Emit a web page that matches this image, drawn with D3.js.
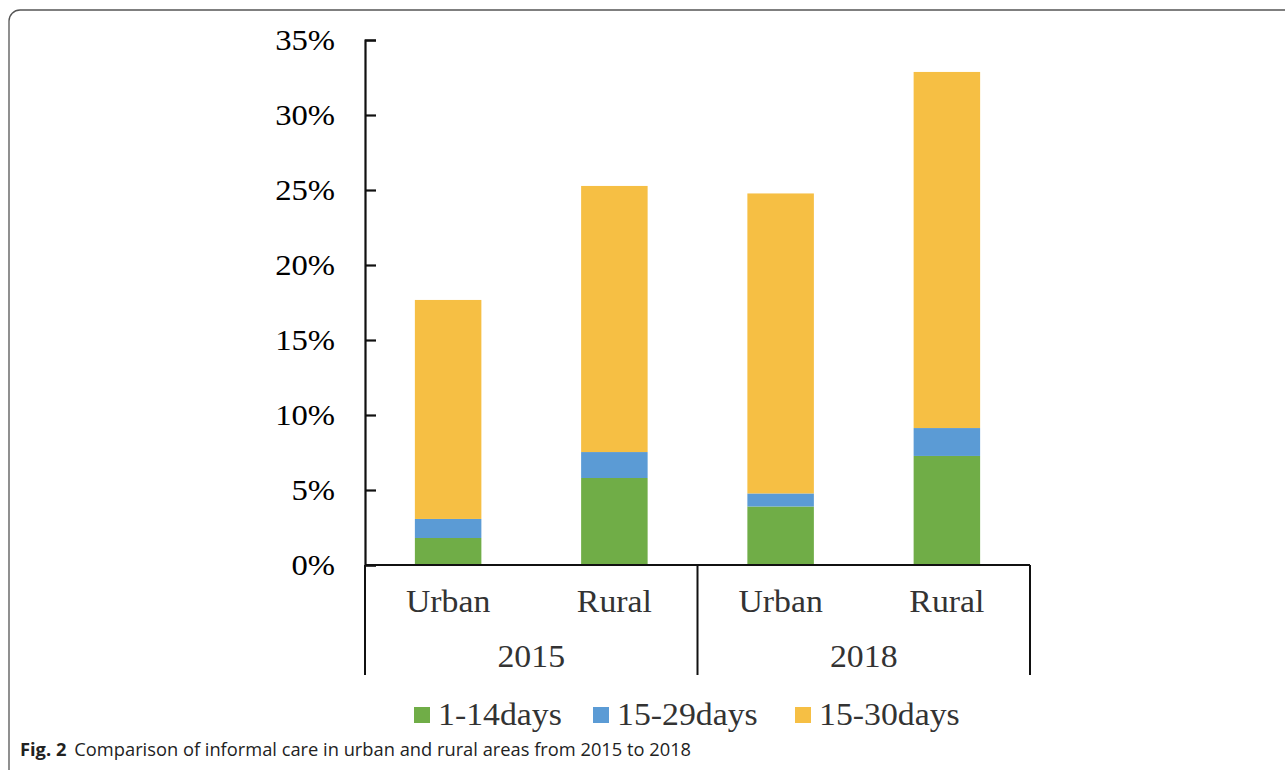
<!DOCTYPE html>
<html>
<head>
<meta charset="utf-8">
<script src="https://cdn.jsdelivr.net/npm/d3@7"></script>
<style>
  body { margin: 0; background: #fff; }
  svg { display: block; }
</style>
</head>
<body>
<div id="chart"></div>
<script>
// data (percent)
var years = ["2015", "2018"];
var areas = ["Urban", "Rural"];
var seriesNames = ["1-14days", "15-29days", "15-30days"];
var days1to14  = [1.8, 5.8, 3.9, 7.27];
var days15to29 = [1.27, 1.73, 0.87, 1.86];
var days15to30 = [14.6, 17.74, 20.0, 23.74];
var yTicks = [0, 5, 10, 15, 20, 25, 30, 35];
var colors = ["#70ad47", "#5b9bd5", "#f6bf44"];

var width = 1285, height = 770;
var plotLeft = 365, plotRight = 1030, plotTop = 40, base = 565, boxBottom = 675;
var stretch = 1.09; // the source text is a bit wider than Times

var svg = d3.select("#chart").append("svg")
  .attr("width", width)
  .attr("height", height);

// frame
svg.append("rect")
  .attr("x", 9).attr("y", 10)
  .attr("width", 1400).attr("height", 900)
  .attr("rx", 11)
  .attr("fill", "none")
  .attr("stroke", "#555")
  .attr("stroke-width", 1.3);

var rows = [];
years.forEach(function (yr, gi) {
  areas.forEach(function (ar, ai) {
    var i = gi * areas.length + ai;
    rows.push({ key: ar + yr, year: yr, area: ar,
      "1-14days": days1to14[i], "15-29days": days15to29[i], "15-30days": days15to30[i] });
  });
});

var x = d3.scaleBand()
  .domain(rows.map(function (d) { return d.key; }))
  .range([plotLeft, plotRight])
  .paddingInner(0.6)
  .paddingOuter(0.3);

var y = d3.scaleLinear().domain([0, 35]).range([base, plotTop]);

var stacked = d3.stack().keys(seriesNames)(rows);

svg.append("g").selectAll("g")
  .data(stacked)
  .enter().append("g")
    .attr("fill", function (d, i) { return colors[i]; })
  .selectAll("rect")
  .data(function (d) { return d; })
  .enter().append("rect")
    .attr("x", function (d) { return x(d.data.key); })
    .attr("width", x.bandwidth())
    .attr("y", function (d) { return y(d[1]); })
    .attr("height", function (d) { return y(d[0]) - y(d[1]); });

var serif = "'Liberation Serif', 'Times New Roman', serif";

function place(px, py) {
  return "translate(" + px + "," + py + ") scale(" + stretch + ",1)";
}

// y axis
var yAxis = svg.append("g")
  .attr("transform", "translate(" + plotLeft + ",0)")
  .call(d3.axisLeft(y).tickValues(yTicks).tickSize(-11).tickPadding(27.5)
    .tickFormat(function (d) { return d + "%"; }));
yAxis.select(".domain").attr("stroke", "#111").attr("stroke-width", 2.2);
yAxis.selectAll(".tick line").attr("stroke", "#111").attr("stroke-width", 2.2);
yAxis.selectAll(".tick text")
  .attr("fill", "#000")
  .attr("transform", "scale(" + stretch + ",1)")
  .style("font-family", serif)
  .style("font-size", "30px");

// x axis line and category box
var lines = svg.append("g").attr("stroke", "#111").attr("stroke-width", 2);
lines.append("line").attr("x1", plotLeft).attr("x2", plotRight).attr("y1", base).attr("y2", base);
var step = x.step();
var divider = x(rows[1].key) + x.bandwidth() + step * x.paddingInner() / 2;
[plotLeft, divider, plotRight].forEach(function (xv) {
  lines.append("line").attr("x1", xv).attr("x2", xv).attr("y1", base).attr("y2", boxBottom);
});

svg.append("g").selectAll("text")
  .data(rows)
  .enter().append("text")
    .attr("transform", function (d) { return place(x(d.key) + x.bandwidth() / 2, 612); })
    .attr("text-anchor", "middle")
    .attr("fill", "#333")
    .style("font-family", serif)
    .style("font-size", "31px")
    .text(function (d) { return d.area; });

svg.append("g").selectAll("text")
  .data(years)
  .enter().append("text")
    .attr("transform", function (d, i) {
      var a = x(rows[i * 2].key), b = x(rows[i * 2 + 1].key) + x.bandwidth();
      return place((a + b) / 2, 667);
    })
    .attr("text-anchor", "middle")
    .attr("fill", "#333")
    .style("font-family", serif)
    .style("font-size", "31px")
    .text(function (d) { return d; });

// legend
var legendX = [414, 593, 795];
var legend = svg.append("g").selectAll("g")
  .data(seriesNames)
  .enter().append("g")
    .attr("transform", function (d, i) { return "translate(" + legendX[i] + ",707)"; });
legend.append("rect")
  .attr("width", 16).attr("height", 16)
  .attr("fill", function (d, i) { return colors[i]; });
legend.append("text")
  .attr("transform", place(24, 18))
  .attr("fill", "#333")
  .style("font-family", serif)
  .style("font-size", "31px")
  .text(function (d) { return d; });

// caption
var cap = svg.append("text")
  .attr("x", 20).attr("y", 756)
  .style("font-family", "'Open Sans', 'Noto Sans', sans-serif")
  .style("font-size", "18.3px")
  .attr("fill", "#222");
cap.append("tspan").style("font-weight", "bold").text("Fig. 2");
cap.append("tspan").attr("dx", 8).text("Comparison of informal care in urban and rural areas from 2015 to 2018");
</script>
</body>
</html>
